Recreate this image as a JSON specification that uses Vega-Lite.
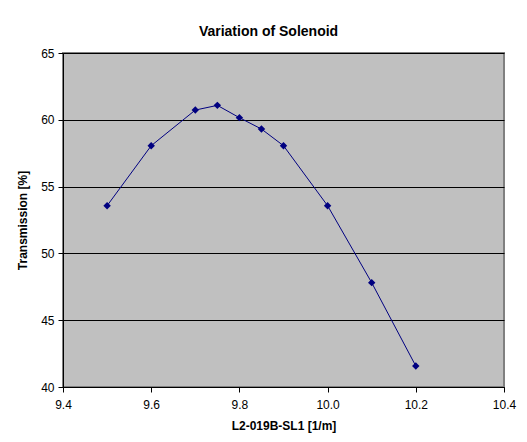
{
  "$schema": "https://vega.github.io/schema/vega-lite/v6.json",
  "width": 441,
  "height": 334,
  "autosize": {"type": "none"},
  "padding": {"left": 63, "top": 53, "right": 23, "bottom": 55},
  "background": "white",
  "title": {
    "text": "Variation of Solenoid",
    "font": "Liberation Sans",
    "fontSize": 14,
    "fontWeight": "bold",
    "color": "black",
    "anchor": "middle",
    "offset": 8,
    "dx": -15
  },
  "data": {
    "values": [
      {"x": 9.5, "y": 53.57},
      {"x": 9.6, "y": 58.06},
      {"x": 9.7, "y": 60.73},
      {"x": 9.75, "y": 61.08},
      {"x": 9.8, "y": 60.16},
      {"x": 9.85, "y": 59.31},
      {"x": 9.9, "y": 58.06},
      {"x": 10.0, "y": 53.57},
      {"x": 10.1, "y": 47.81},
      {"x": 10.2, "y": 41.57}
    ]
  },
  "layer": [
    {
      "mark": {"type": "line", "color": "#000080", "strokeWidth": 1},
      "encoding": {
        "x": {"field": "x", "type": "quantitative"},
        "y": {"field": "y", "type": "quantitative"}
      }
    },
    {
      "mark": {"type": "point", "shape": "diamond", "filled": true, "color": "#000080", "size": 55, "opacity": 1},
      "encoding": {
        "x": {
          "field": "x",
          "type": "quantitative",
          "scale": {"domain": [9.4, 10.4], "nice": false, "zero": false},
          "axis": {
            "title": "L2-019B-SL1 [1/m]",
            "values": [9.4, 9.6, 9.8, 10.0, 10.2, 10.4],
            "format": ".1f",
            "grid": false,
            "tickSize": 5,
            "labelPadding": 7,
            "titlePadding": 10
          }
        },
        "y": {
          "field": "y",
          "type": "quantitative",
          "scale": {"domain": [40, 65], "nice": false, "zero": false},
          "axis": {
            "title": "Transmission [%]",
            "values": [40, 45, 50, 55, 60, 65],
            "grid": true,
            "tickSize": 5,
            "labelPadding": 4,
            "titlePadding": 11
          }
        }
      }
    }
  ],
  "config": {
    "font": "Liberation Sans",
    "view": {"fill": "#C0C0C0", "stroke": "#808080", "strokeWidth": 2},
    "axis": {
      "labelFont": "Liberation Sans",
      "labelFontSize": 12,
      "labelColor": "black",
      "titleFont": "Liberation Sans",
      "titleFontSize": 12,
      "titleFontWeight": "bold",
      "titleColor": "black",
      "domainColor": "black",
      "tickColor": "black",
      "gridColor": "black",
      "gridOpacity": 1,
      "gridWidth": 1,
      "labelFlush": false
    }
  }
}
